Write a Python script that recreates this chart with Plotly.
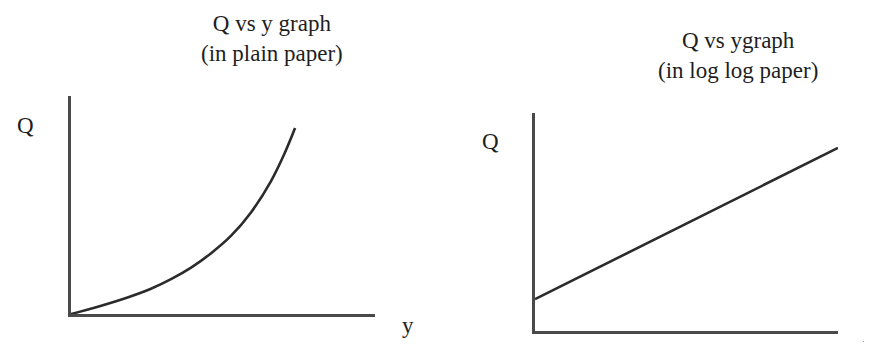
import plotly.graph_objects as go

# Daten (Achsen 0..1 normiert)
plain_y = [0.0, 0.077, 0.186, 0.263, 0.329, 0.395, 0.461, 0.526, 0.592, 0.658, 0.702, 0.737]
plain_q = [0.0, 0.029, 0.076, 0.116, 0.160, 0.213, 0.279, 0.358, 0.466, 0.610, 0.735, 0.853]

loglog_y = [0.0, 1.0]
loglog_q = [0.146, 0.84]

titles = ["Q vs y graph<br>(in plain paper)", "Q vs ygraph<br>(in log log paper)"]
achsen_namen = ["Q", "y"]

# Seite hat 8px body-margin -> Figur kleiner, alle Positionen um 8px verschoben
OFF = 8
W, H = 872 - OFF, 352 - OFF
LINIE = "#2b2b2b"
ACHSE = "#4a4a4a"
FONT = dict(family="Liberation Serif, Times New Roman, serif", size=23, color="#1e1e1e")


def px_x(px):
    return (px - OFF) / W


def px_y(py):
    return 1 - (py - OFF) / H


fig = go.Figure()

fig.add_trace(go.Scatter(x=plain_y, y=plain_q, mode="lines", line=dict(color=LINIE, width=2.6, shape="spline"),
                         xaxis="x", yaxis="y", showlegend=False, hoverinfo="skip"))
fig.add_trace(go.Scatter(x=loglog_y, y=loglog_q, mode="lines", line=dict(color=LINIE, width=2.6),
                         xaxis="x2", yaxis="y2", showlegend=False, hoverinfo="skip"))

achse = dict(showline=True, linecolor=ACHSE, linewidth=2.6, showgrid=False, zeroline=False,
             showticklabels=False, ticks="", range=[0, 1], fixedrange=True)

fig.update_layout(
    width=W, height=H,
    margin=dict(l=0, r=0, t=0, b=0),
    paper_bgcolor="white", plot_bgcolor="white",
    xaxis=dict(achse, domain=[px_x(71), px_x(375)], anchor="y"),
    yaxis=dict(achse, domain=[px_y(314), px_y(96)], anchor="x"),
    xaxis2=dict(achse, domain=[px_x(535), px_x(838)], anchor="y2"),
    yaxis2=dict(achse, domain=[px_y(331), px_y(113)], anchor="x2"),
)

# Titel und Achsenbeschriftungen (Pixelpositionen im Bild)
texte = [
    (titles[0], 272, 39),
    (titles[1], 738, 55),
    (achsen_namen[0], 25, 126),
    (achsen_namen[1], 408, 325),
    (achsen_namen[0], 490, 141),
    (achsen_namen[1], 869, 344),
]
for txt, px, py in texte:
    fig.add_annotation(text=txt, x=px_x(px), y=px_y(py), xref="paper", yref="paper",
                       showarrow=False, font=FONT, xanchor="center", yanchor="middle")

fig.write_html("out.html")
